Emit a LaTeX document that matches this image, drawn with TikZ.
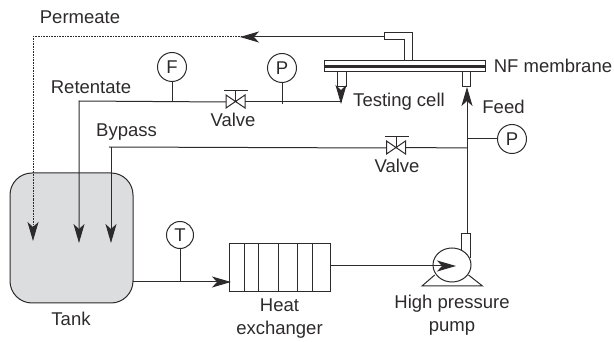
\documentclass[tikz,border=0pt]{standalone}
\usepackage{fontspec}
\setmainfont{Liberation Sans}
\usetikzlibrary{arrows.meta,shapes.geometric}
\definecolor{inkgray}{RGB}{45,42,43}
\definecolor{tankgray}{RGB}{220,221,223}
\tikzset{
  lbl/.style={inner sep=0pt,text=inkgray,align=center,font=\fontsize{18.5}{23}\selectfont},
  gauge/.style={circle,draw=inkgray,line width=1pt,inner sep=0pt,minimum size=29pt,text=inkgray,font=\fontsize{18.5}{22}\selectfont},
  pipe/.style={draw=inkgray,line width=1pt},
  flow/.style={pipe,-{Stealth[length=19pt,width=11pt,inset=5pt]}},
  seep/.style={line width=1pt,dash pattern=on 0.8pt off 0.8pt},
  valvebody/.style={pipe,line join=miter}
}
\begin{document}
\begin{tikzpicture}[x=1pt,y=-1pt]
  \useasboundingbox (0,0) rectangle (614,342);
  % 储罐、换热器、泵
  \node[pipe,fill=tankgray,rounded corners=22pt,minimum width=123pt,minimum height=130pt,inner sep=0pt] (tank) at (71.5,238) {};
  \node[pipe,minimum width=101pt,minimum height=48pt,inner sep=0pt] (hx) at (279.5,268) {};
  \foreach \x in {244,258,278,297,312}
  \draw[pipe,line width=0.9pt] (\x,244) -- (\x,292);
  \draw[pipe] (461,250) -- (461,234) -- (470,234) -- (470,258);
  \node[ellipse,pipe,minimum width=38pt,minimum height=34pt,inner sep=0pt] (pump) at (452,265) {};
  \draw[pipe] (434.7,275) -- (422,286) -- (482.5,286) -- (468.5,275);
  % 膜组件
  \node[pipe,minimum width=161pt,minimum height=11pt,inner sep=0pt] (membrane) at (404.5,66.5) {};
  \draw[line width=2.4pt,inkgray] (membrane.west) -- (membrane.east);
  \draw[pipe] (337,72) -- (337,87) -- (346,87) -- (346,72);
  \draw[pipe] (462,72) -- (462,87) -- (470,87) -- (470,72);
  \draw[pipe] (404,61) -- (404,40) -- (384,40) -- (384,33) -- (412,33) -- (412,61);
  % 管路端点
  \coordinate (permout) at (384,37);
  \coordinate (permdot) at (245,37);
  \coordinate (permcorner) at (33,37);
  \coordinate (permtip) at (33,241);
  \coordinate (retcorner) at (79,101);
  \coordinate (rettip) at (79,243);
  \coordinate (valveA) at (235.5,101.5);
  \coordinate (celltip) at (341,104);
  \coordinate (bypcorner) at (111,147);
  \coordinate (byptip) at (111,243);
  \coordinate (valveB) at (396,147.5);
  \coordinate (tee) at (467,148);
  \coordinate (pumpout) at (467,234);
  \coordinate (feedtip) at (467,87);
  \coordinate (tankout) at (133,282);
  \coordinate (hxin) at (231,282);
  \coordinate (hxout) at (330,266);
  \coordinate (pumpin) at (456,266);
  % 阀门
  \foreach \v in {valveA,valveB}{
    \draw[valvebody] ([shift={(-9.5,-6.5)}]\v) -- ([shift={(9.5,6.5)}]\v) -- ([shift={(9.5,-6.5)}]\v) -- ([shift={(-9.5,6.5)}]\v) -- cycle;
    \draw[pipe] (\v) -- ([yshift=10.5pt]\v);
    \draw[pipe] ([shift={(-11.5,-10.5)}]\v) -- ([shift={(12.5,-10.5)}]\v);
  }
  % 仪表
  \node[gauge] (gaugeF) at (172,67) {F};
  \node[gauge] (gaugeP) at (282,68) {P};
  \node[gauge] (gaugeQ) at (512,139) {P};
  \node[gauge,minimum size=27pt] (gaugeT) at (180,235) {T};
  \draw[pipe] (gaugeF.south) -- (gaugeF.south |- retcorner);
  \draw[pipe] (gaugeP.south) -- (gaugeP.south |- celltip);
  \draw[pipe] (gaugeQ.west) -- (tee |- gaugeQ.west);
  % 渗透液
  \draw[flow] (permout) -- (240,37);
  \draw[pipe,seep] (permdot) -- (permcorner) -- (33,200);
  \draw[flow,seep] (33,200) -- (permtip);
  % 截留液
  \draw[flow] ([xshift=-9.5pt,yshift=-0.5pt]valveA) -- (retcorner) -- (rettip);
  \draw[flow] ([xshift=9.5pt]valveA) -- (valveA -| celltip) -- (celltip);
  % 旁路
  \draw[pipe] ([xshift=-9.5pt,yshift=-0.5pt]valveB) -- (109,147);
  \draw[flow] (bypcorner) -- (byptip);
  \draw[pipe] ([xshift=9.5pt]valveB) -- (tee);
  % 进料
  \draw[flow] (pumpout) -- (feedtip);
  \draw[flow] (tankout) -- (hxin);
  \draw[flow] (hxout) -- (pumpin);
  \draw[pipe] (gaugeT.south) -- (gaugeT.south |- tankout);
  % 标注
  \node[lbl] (permlbl) at (80,17) {Permeate};
  \node[lbl] (retlbl) at (91,87) {Retentate};
  \node[lbl] (byplbl) at (126.5,132) {Bypass};
  \node[lbl] (valvelblA) at (233,120) {Valve};
  \node[lbl] (valvelblB) at (397,166) {Valve};
  \node[lbl] (celllbl) at (399,102) {Testing cell};
  \node[lbl] (nflbl) at (553,66) {NF membrane};
  \node[lbl] (feedlbl) at (503.5,107) {Feed};
  \node[lbl] (tanklbl) at (71,319) {Tank};
  \node[lbl] (hxlbl) at (279.5,319) {Heat\\exchanger};
  \node[lbl] (pumplbl) at (452,315.5) {High pressure\\pump};
\end{tikzpicture}
\end{document}
